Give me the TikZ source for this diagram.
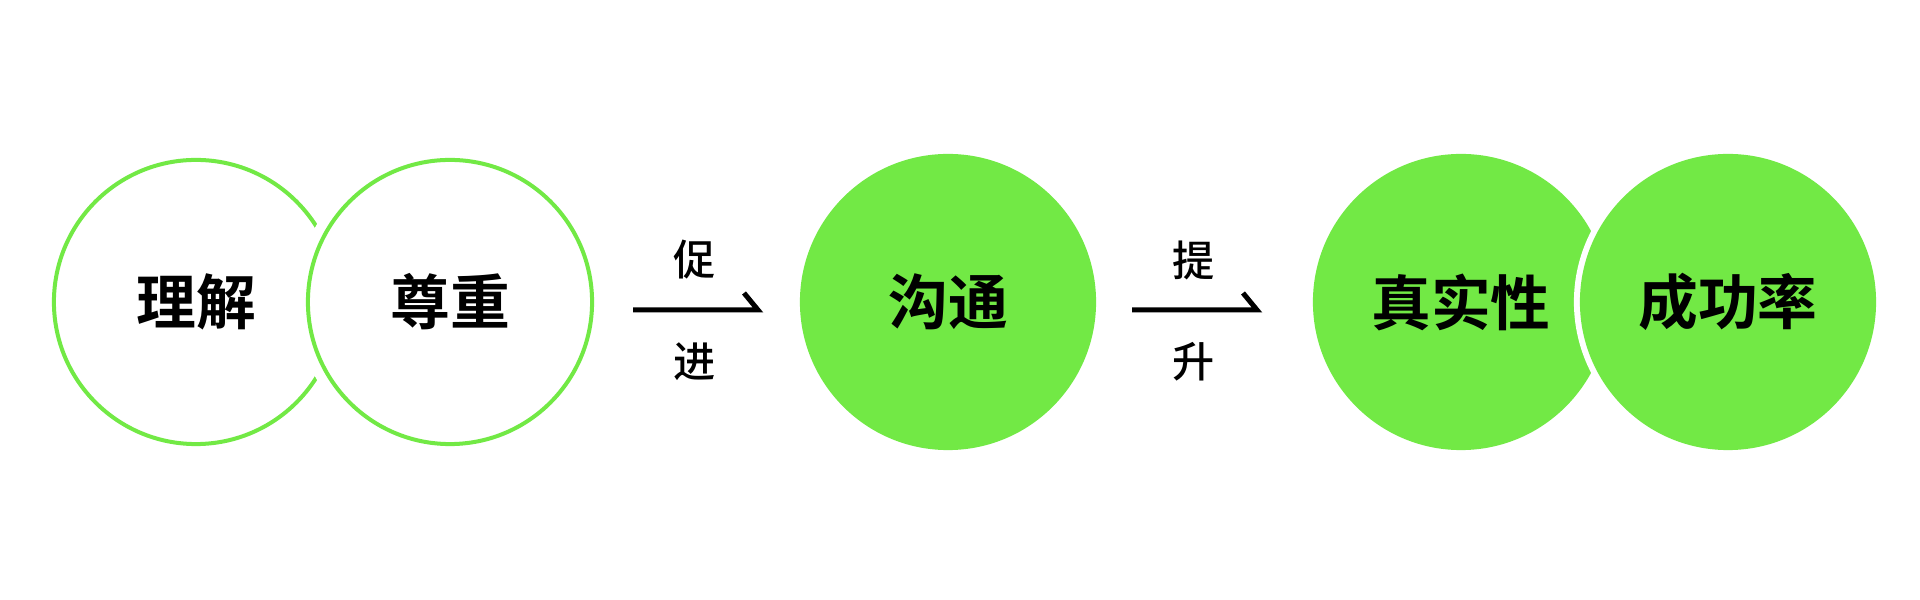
\documentclass[tikz,border=0pt]{standalone}
\usepackage{fontspec}
\newfontfamily\cjk{Noto Sans CJK SC Medium}
\newfontfamily\cjkbf{Noto Sans CJK SC Bold}
\definecolor{leafgreen}{RGB}{114,233,69}
\tikzset{
    ring/.style={circle,draw=leafgreen,fill=white,line width=0.04cm,minimum size=2.84cm,inner sep=0pt,outer sep=0pt,font=\cjkbf\fontsize{17}{20}\selectfont},
    gapring/.style={preaction={draw=white,line width=0.24cm}},
    disc/.style={circle,draw=none,fill=leafgreen,minimum size=2.96cm,inner sep=0pt,outer sep=0pt,font=\cjkbf\fontsize{17}{20}\selectfont},
    gapdisc/.style={preaction={draw=white,line width=0.12cm}},
    steplabel/.style={font=\cjk\fontsize{12}{14}\selectfont,inner sep=0pt},
    promote/.style={line width=0.05cm,line join=miter},
    }
\begin{document}
\begin{tikzpicture}[x=0.01cm,y=0.01cm]
	\useasboundingbox (0,0) rectangle (1920,600);
	
	\node[ring] (li) at (196,298) {理解};
	\node[ring,gapring] (zun) at (450,298) {尊重};
	
	\node[disc] (gou) at (948,298) {沟通};
	
	\node[disc] (zhen) at (1461,298) {真实性};
	\node[disc,gapdisc] (cheng) at (1728,298) {成功率};
	
	% arrows between the stages
	\coordinate (a1) at (633,290);
	\coordinate (b1) at (758,290);
	\coordinate (c1) at (744,307);
	\coordinate (a2) at (1132,290);
	\coordinate (b2) at (1257,290);
	\coordinate (c2) at (1243,307);
	
	\draw[promote] (a1) -- (b1) -- (c1);
	\draw[promote] (a2) -- (b2) -- (c2);
	
	\node[steplabel] (cu) at (695,340) {促};
	\node[steplabel] (jin) at (695,238) {进};
	\node[steplabel] (ti) at (1194,340) {提};
	\node[steplabel] (sheng) at (1194,238) {升};
\end{tikzpicture}
\end{document}
